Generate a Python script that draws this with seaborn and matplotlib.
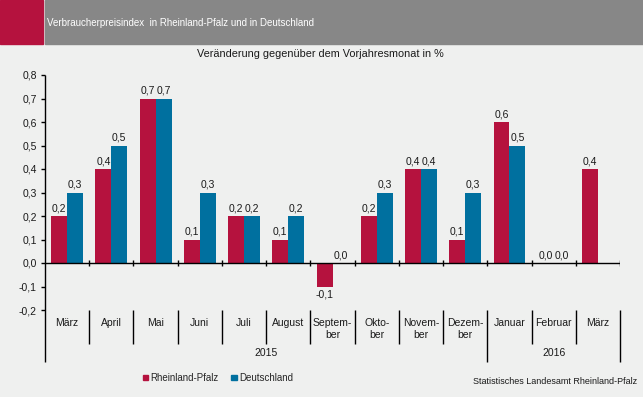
import pandas as pd
import seaborn as sns
import matplotlib.pyplot as plt
import matplotlib.transforms as mtransforms
from matplotlib.patches import Rectangle
from matplotlib.ticker import FuncFormatter

# Data
months = ["März", "April", "Mai", "Juni", "Juli", "August", "Septem-\nber",
          "Okto-\nber", "Novem-\nber", "Dezem-\nber", "Januar", "Februar", "März"]
rlp = [0.2, 0.4, 0.7, 0.1, 0.2, 0.1, -0.1, 0.2, 0.4, 0.1, 0.6, 0.0, 0.4]
de = [0.3, 0.5, 0.7, 0.3, 0.2, 0.2, 0.0, 0.3, 0.4, 0.3, 0.5, 0.0, None]
years = ["2015", "2016"]
year_span = [(0, 9), (10, 12)]

crimson = "#B5123E"
blue = "#00709F"
bg = "#EFF0EF"

sns.set_theme(style="white")
plt.rcParams["font.family"] = ["Liberation Sans", "DejaVu Sans"]

rows = []
for i, m in enumerate(months):
    rows.append({"pos": i, "Land": "Rheinland-Pfalz", "wert": rlp[i]})
    rows.append({"pos": i, "Land": "Deutschland", "wert": de[i]})
df = pd.DataFrame(rows).dropna()

fig = plt.figure(figsize=(6.43, 3.97), dpi=100, facecolor=bg)
W, H = 643, 397
ax = fig.add_axes([45 / W, (H - 310) / H, 575 / W, 235 / H])
ax.set_facecolor(bg)

sns.barplot(data=df, x="pos", y="wert", hue="Land", order=list(range(13)),
            palette=[crimson, blue], width=0.72, saturation=1,
            linewidth=0, edgecolor="none", ax=ax)

comma = lambda v: f"{v:.1f}".replace(".", ",")
for c in ax.containers:
    ax.bar_label(c, fmt=comma, padding=2, fontsize=7.5, color="#1a1a1a")

ax.set_xlim(-0.5, 12.5)
ax.set_ylim(-0.2, 0.8)
ax.set_yticks([-0.2, -0.1, 0, 0.1, 0.2, 0.3, 0.4, 0.5, 0.6, 0.7, 0.8])
ax.yaxis.set_major_formatter(FuncFormatter(lambda v, p: comma(v)))
ax.tick_params(axis="y", left=True, length=3, width=1, color="black",
               labelsize=7.5, pad=3, labelcolor="#1a1a1a")
ax.set_xticks(range(13))
ax.set_xticklabels(months, fontsize=7.5, linespacing=1.15, color="#1a1a1a")
ax.tick_params(axis="x", length=0, pad=6)
ax.set_xlabel("")
ax.set_ylabel("")
for s in ["top", "right", "bottom", "left"]:
    ax.spines[s].set_visible(False)

ax.legend_.remove()

# zero line with boundary ticks
ax.axhline(0, color="black", lw=1, zorder=3)
bounds = [i + 0.5 for i in range(13)]
ax.vlines(bounds, -0.013, 0.013, color="black", lw=1, zorder=3)

# separators below the plot
tr = mtransforms.blended_transform_factory(ax.transData, ax.transAxes)
ax.vlines([-0.5], -0.222, 1.0, transform=tr, color="black", lw=1, clip_on=False)
short = [b for b in bounds[:-1] if b != 9.5]
ax.vlines(short, -0.145, 0.0, transform=tr, color="black", lw=1, clip_on=False)
ax.vlines([9.5, 12.5], -0.222, 0.0, transform=tr, color="black", lw=1, clip_on=False)
for y, (a, b) in zip(years, year_span):
    ax.text((a + b) / 2, -0.183, y,
            transform=tr, ha="center", va="center", fontsize=7.5, color="#1a1a1a")

# header band
fig.patches.append(Rectangle((0, 1 - 44 / H), 43 / W, 44 / H, transform=fig.transFigure,
                             color=crimson, zorder=0))
fig.patches.append(Rectangle((45 / W, 1 - 44 / H), 1 - 45 / W, 44 / H,
                             transform=fig.transFigure, color="#878787", zorder=0))
fig.text(47 / W, 1 - 23 / H, "Verbraucherpreisindex  in Rheinland-Pfalz und in Deutschland",
         color="white", fontsize=7, va="center", ha="left")
fig.text(320 / W, 1 - 54 / H, "Veränderung gegenüber dem Vorjahresmonat in %",
         color="#1a1a1a", fontsize=7.8, va="center", ha="center")

handles = [Rectangle((0, 0), 1, 1, color=crimson), Rectangle((0, 0), 1, 1, color=blue)]
fig.legend(handles, ["Rheinland-Pfalz", "Deutschland"], loc="center left",
           bbox_to_anchor=(134 / W, 1 - 378 / H), ncol=2, frameon=False,
           fontsize=7, handlelength=0.55, handleheight=0.55, handletextpad=0.25,
           columnspacing=1.3)
fig.text(637 / W, 1 - 382 / H, "Statistisches Landesamt Rheinland-Pfalz",
         color="#1a1a1a", fontsize=6.5, ha="right", va="center")

fig.savefig("out.png", dpi=100, facecolor=bg)
